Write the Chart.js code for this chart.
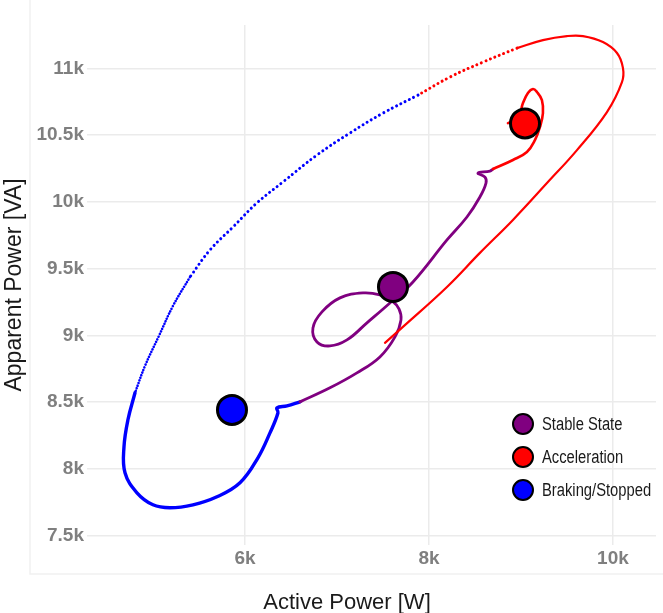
<!DOCTYPE html>
<html><head><meta charset="utf-8">
<script src="https://cdn.jsdelivr.net/npm/chart.js@4/dist/chart.umd.min.js"></script>
<style>html,body{margin:0;padding:0;background:#fff}#wrap{width:663px;height:613px}</style>
</head><body><div id="wrap"><canvas id="c" width="663" height="613"></canvas></div>
<script>
// ---- data ----
const seriesNames = ['Stable State', 'Acceleration', 'Braking/Stopped'];
const xTickValues = [6000, 8000, 10000];
const yTickValues = [7500, 8000, 8500, 9000, 9500, 10000, 10500, 11000];

// state centroids
const centroidX = [7609, 9044, 5859];
const centroidY = [9363, 10588, 8442];

// trajectory: stable state
const stableX = [6598, 6924, 7217, 7467, 7631, 7696, 7674, 7598, 7467, 7283, 7033, 6837, 6739, 6783, 6924, 7109, 7326, 7576, 7826, 8196, 8413, 8554, 8620, 8609, 8533, 8663, 8696];
const stableY = [8502, 8607, 8719, 8839, 8989, 9116, 9198, 9258, 9303, 9318, 9281, 9176, 9056, 8951, 8921, 8966, 9094, 9243, 9400, 9715, 9887, 10037, 10141, 10186, 10216, 10231, 10246];

// trajectory: acceleration (inner hook around centroid)
const accelInnerX = [8696, 8913, 9065, 9152, 9207, 9239, 9228, 9174, 9131, 9076, 9022, 8989, 8935, 8859];
const accelInnerY = [10246, 10314, 10374, 10463, 10561, 10665, 10763, 10823, 10845, 10815, 10740, 10665, 10613, 10590];

// trajectory: acceleration (outer sweep)
const accelOuterX = [7522, 7717, 8196, 8554, 8913, 9283, 9609, 9935, 10098, 10109, 10044, 9891, 9674, 9500, 9239, 8957];
const accelOuterY = [8944, 9064, 9363, 9618, 9865, 10141, 10388, 10673, 10897, 11002, 11115, 11197, 11242, 11242, 11212, 11152];
const accelFastX = [8957, 8587, 8228, 7881];
const accelFastY = [11152, 11047, 10935, 10800];

// trajectory: braking / stopped
const brakeFastX = [7881, 7500, 7141, 6783, 6413, 6130, 5870, 5620, 5402];
const brakeFastY = [10800, 10665, 10516, 10351, 10149, 9992, 9812, 9640, 9437];
const brakeMidX = [5402, 5217, 5065, 4913, 4805];
const brakeMidY = [9437, 9220, 8996, 8771, 8570];
const brakeSlowX = [4805, 4728, 4685, 4696, 4826, 5000, 5185, 5435, 5696, 5946, 6141, 6272, 6359, 6348, 6457, 6598];
const brakeSlowY = [8570, 8368, 8165, 7971, 7821, 7731, 7709, 7731, 7791, 7896, 8083, 8270, 8420, 8457, 8472, 8502];

// ---- style ----
const PURPLE = '#800080', RED = '#ff0000', BLUE = '#0000ff';
const stateColors = [PURPLE, RED, BLUE];

const toPts = (xs, ys) => xs.map((x, i) => ({ x: x, y: ys[i] }));
function path(xs, ys, color, width, dash, order) {
  return {
    type: 'scatter', data: toPts(xs, ys), showLine: true,
    borderColor: color, backgroundColor: color, borderWidth: width,
    borderDash: dash || [], borderCapStyle: 'round', borderJoinStyle: 'round',
    pointRadius: 0, pointHoverRadius: 0, tension: 0.4, fill: false, order: order
  };
}

const frame = {
  id: 'frame',
  beforeDraw(chart) {
    const ctx = chart.ctx;
    ctx.save();
    ctx.strokeStyle = '#f1f1f1'; ctx.lineWidth = 1.5;
    ctx.beginPath(); ctx.moveTo(30, 0); ctx.lineTo(30, 574); ctx.lineTo(663, 574); ctx.stroke();
    ctx.restore();
  }
};

const titles = {
  id: 'xtitle',
  afterDraw(chart) {
    const ctx = chart.ctx;
    ctx.save();
    ctx.font = '22px "Liberation Sans", Arial, sans-serif';
    ctx.fillStyle = '#1a1a1a'; ctx.textAlign = 'center'; ctx.textBaseline = 'alphabetic';
    ctx.fillText('Active Power [W]', 347, 609);
    ctx.restore();
  }
};

const legend = {
  id: 'stateLegend',
  afterDraw(chart) {
    const ctx = chart.ctx, a = chart.chartArea;
    seriesNames.forEach((name, i) => {
      const cx = a.right - 133, cy = a.bottom - 121 + i * 33;
      ctx.save();
      ctx.beginPath(); ctx.arc(cx, cy, 10, 0, Math.PI * 2);
      ctx.fillStyle = stateColors[i]; ctx.fill();
      ctx.lineWidth = 2; ctx.strokeStyle = '#000'; ctx.stroke();
      ctx.translate(cx + 19, cy + 1);
      ctx.scale(0.82, 1);
      ctx.font = '18px "Liberation Sans", Arial, sans-serif';
      ctx.textBaseline = 'middle'; ctx.textAlign = 'left';
      ctx.fillStyle = '#1a1a1a';
      ctx.fillText(name, 0, 0);
      ctx.restore();
    });
  }
};

const tickFont = { family: '"Liberation Sans", Arial, sans-serif', size: 19, weight: 'bold' };
const noPad = s => { s.paddingLeft = 0; s.paddingRight = 0; s.paddingTop = 0; s.paddingBottom = 0; };

new Chart(document.getElementById('c'), {
  type: 'scatter',
  data: {
    datasets: [
      {
        type: 'scatter', data: toPts(centroidX, centroidY), showLine: false,
        pointRadius: 14.5, pointHoverRadius: 14.5, pointBackgroundColor: stateColors,
        pointBorderColor: '#000', pointBorderWidth: 3, order: 0
      },
      path(accelInnerX, accelInnerY, RED, 2.6, null, 1),
      path(accelOuterX, accelOuterY, RED, 2.2, null, 1),
      path(accelFastX, accelFastY, RED, 3, [0.01, 4.8], 1),
      path(stableX, stableY, PURPLE, 2.8, null, 2),
      path(brakeFastX, brakeFastY, BLUE, 3, [0.01, 4.8], 3),
      path(brakeMidX, brakeMidY, BLUE, 2.6, [0.01, 2.8], 3),
      path(brakeSlowX, brakeSlowY, BLUE, 3.4, null, 3)
    ]
  },
  options: {
    responsive: false, animation: false, devicePixelRatio: 1,
    layout: { autoPadding: false, padding: { left: 0, right: 7, top: 25, bottom: 0 } },
    plugins: { legend: { display: false }, tooltip: { enabled: false } },
    scales: {
      x: {
        type: 'linear', min: 4283, max: 10468,
        afterBuildTicks: s => { s.ticks = xTickValues.map(v => ({ value: v })); },
        afterFit: s => { s.height = 68; noPad(s); },
        grid: { color: '#ebebeb', lineWidth: 1.5, drawTicks: false },
        border: { display: false },
        ticks: { font: tickFont, color: '#7f7f7f', padding: 2, callback: v => (v / 1000) + 'k' }
      },
      y: {
        type: 'linear', min: 7430, max: 11325,
        afterBuildTicks: s => { s.ticks = yTickValues.map(v => ({ value: v })); },
        afterFit: s => { s.width = 87; noPad(s); },
        grid: { color: '#ebebeb', lineWidth: 1.5, drawTicks: false },
        border: { display: false },
        ticks: { font: tickFont, color: '#7f7f7f', padding: 3, callback: v => (v / 1000) + 'k' },
        title: {
          display: true, text: 'Apparent Power [VA]', color: '#1a1a1a',
          font: { family: '"Liberation Sans", Arial, sans-serif', size: 23 },
          padding: { top: 1, bottom: 0 }
        }
      }
    }
  },
  plugins: [frame, titles, legend]
});
</script>
</body></html>
